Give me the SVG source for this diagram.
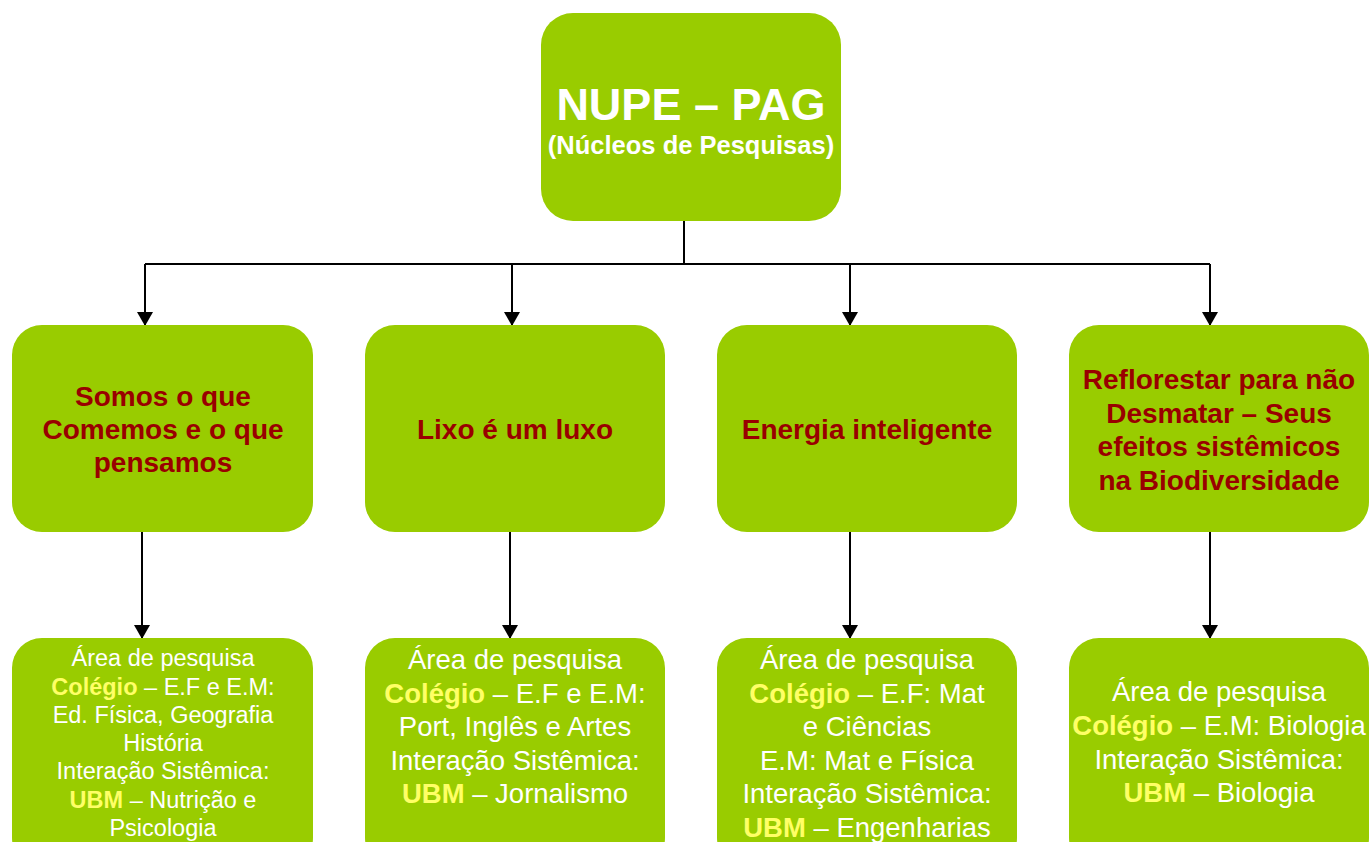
<svg xmlns="http://www.w3.org/2000/svg" width="1371" height="842" viewBox="0 0 1371 842">
<defs>
<style>
.box{fill:#99CC00}
.t{font-family:"Liberation Sans",Arial,sans-serif;text-anchor:middle}
.w{fill:#FFFFFF}
.r{fill:#990000;font-weight:bold;font-size:28px}
.y{fill:#FFFF66;font-weight:bold}
.c{stroke:#000;stroke-width:2;fill:none}
</style>
<marker id="ah" viewBox="0 0 14 16" refX="14" refY="8" markerWidth="14" markerHeight="16" markerUnits="userSpaceOnUse" orient="auto">
<path d="M0,0 L14,8 L0,16 z" fill="#000"/>
</marker>
</defs>
<rect width="1371" height="842" fill="#fff"/>
<g id="connectors">
<path class="c" d="M684,221 V264 M145,264 H1210"/>
<path class="c" d="M145,264 V326" marker-end="url(#ah)"/>
<path class="c" d="M512,264 V326" marker-end="url(#ah)"/>
<path class="c" d="M850,264 V326" marker-end="url(#ah)"/>
<path class="c" d="M1210,264 V326" marker-end="url(#ah)"/>
<path class="c" d="M142,532 V639" marker-end="url(#ah)"/>
<path class="c" d="M510,532 V639" marker-end="url(#ah)"/>
<path class="c" d="M850,532 V639" marker-end="url(#ah)"/>
<path class="c" d="M1210,532 V639" marker-end="url(#ah)"/>
</g>
<g id="root">
<rect class="box" x="541" y="13" width="300" height="208" rx="32"/>
<text class="t w" x="691" y="120" font-size="45" font-weight="bold">NUPE – PAG</text>
<text class="t w" x="691" y="154" font-size="25.5" font-weight="bold">(Núcleos de Pesquisas)</text>
</g>
<g id="n1">
<rect class="box" x="12" y="325" width="301" height="207" rx="30"/>
<text class="t r" x="163" y="406">Somos o que</text>
<text class="t r" x="163" y="439">Comemos e o que</text>
<text class="t r" x="163" y="472">pensamos</text>
</g>
<g id="n2">
<rect class="box" x="365" y="325" width="300" height="207" rx="30"/>
<text class="t r" x="515" y="439">Lixo é um luxo</text>
</g>
<g id="n3">
<rect class="box" x="717" y="325" width="300" height="207" rx="30"/>
<text class="t r" x="867" y="439">Energia inteligente</text>
</g>
<g id="n4">
<rect class="box" x="1069" y="325" width="300" height="207" rx="30"/>
<text class="t r" x="1219" y="389">Reflorestar para não</text>
<text class="t r" x="1219" y="423">Desmatar – Seus</text>
<text class="t r" x="1219" y="456">efeitos sistêmicos</text>
<text class="t r" x="1219" y="490">na Biodiversidade</text>
</g>
<g id="d1">
<rect class="box" x="12" y="638" width="301" height="230" rx="30"/>
<g class="t w" font-size="23.5">
<text x="163" y="666">Área de pesquisa</text>
<text x="163" y="695"><tspan class="y">Colégio</tspan> – E.F e E.M:</text>
<text x="163" y="723">Ed. Física, Geografia</text>
<text x="163" y="751">História</text>
<text x="163" y="779">Interação Sistêmica:</text>
<text x="163" y="808"><tspan class="y">UBM</tspan> – Nutrição e</text>
<text x="163" y="836">Psicologia</text>
</g>
</g>
<g id="d2">
<rect class="box" x="365" y="638" width="300" height="230" rx="30"/>
<g class="t w" font-size="27.5">
<text x="515" y="669">Área de pesquisa</text>
<text x="515" y="703"><tspan class="y">Colégio</tspan> – E.F e E.M:</text>
<text x="515" y="736">Port, Inglês e Artes</text>
<text x="515" y="770">Interação Sistêmica:</text>
<text x="515" y="803"><tspan class="y">UBM</tspan> – Jornalismo</text>
</g>
</g>
<g id="d3">
<rect class="box" x="717" y="638" width="300" height="230" rx="30"/>
<g class="t w" font-size="27.5">
<text x="867" y="669">Área de pesquisa</text>
<text x="867" y="703"><tspan class="y">Colégio</tspan> – E.F: Mat</text>
<text x="867" y="736">e Ciências</text>
<text x="867" y="770">E.M: Mat e Física</text>
<text x="867" y="803">Interação Sistêmica:</text>
<text x="867" y="837"><tspan class="y">UBM</tspan> – Engenharias</text>
</g>
</g>
<g id="d4">
<rect class="box" x="1069" y="638" width="300" height="230" rx="30"/>
<g class="t w" font-size="27.5">
<text x="1219" y="701">Área de pesquisa</text>
<text x="1219" y="735"><tspan class="y">Colégio</tspan> – E.M: Biologia</text>
<text x="1219" y="769">Interação Sistêmica:</text>
<text x="1219" y="802"><tspan class="y">UBM</tspan> – Biologia</text>
</g>
</g>
</svg>
